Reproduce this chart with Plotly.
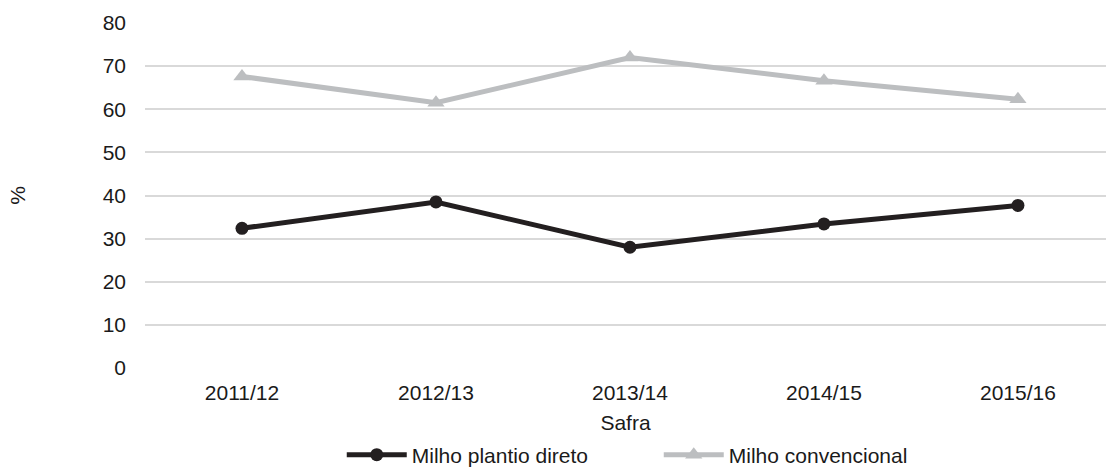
import plotly.graph_objects as go

safras = ["2011/12", "2012/13", "2013/14", "2014/15", "2015/16"]
plantio_direto = [32.4, 38.5, 28.0, 33.4, 37.7]
convencional = [67.6, 61.5, 72.0, 66.6, 62.3]
y_ticks = [0, 10, 20, 30, 40, 50, 60, 70, 80]

FONT = "Liberation Sans, Arial, sans-serif"
TXT = "#1a1a1a"
FS = 21

fig = go.Figure()
fig.add_trace(go.Scatter(
    x=safras, y=plantio_direto, name="Milho plantio direto",
    mode="lines+markers",
    line=dict(color="#231f20", width=5),
    marker=dict(symbol="circle", size=13, color="#231f20"),
))
fig.add_trace(go.Scatter(
    x=safras, y=convencional, name="Milho convencional",
    mode="lines+markers",
    line=dict(color="#bcbec0", width=5),
    marker=dict(symbol="triangle-up", size=15, color="#bcbec0"),
))

fig.update_layout(
    width=1106, height=469,
    margin=dict(l=145, r=0, t=23, b=101),
    paper_bgcolor="white", plot_bgcolor="white",
    font=dict(family=FONT, size=FS, color=TXT),
    showlegend=True,
    legend=dict(orientation="h", xref="container", yref="container",
                x=0.309, xanchor="left", y=1 - 455 / 469, yanchor="middle",
                font=dict(size=FS, color=TXT), entrywidth=242, itemwidth=60,
                bgcolor="rgba(0,0,0,0)"),
    xaxis=dict(
        type="category", range=[-0.5, 4.454], showgrid=False, zeroline=False,
        showline=False, ticks="", ticklabelstandoff=10, automargin=False,
        title=dict(text="Safra", standoff=23, font=dict(size=FS, color=TXT)),
    ),
    yaxis=dict(
        range=[0, 80], tickvals=y_ticks, showgrid=True, gridcolor="#d9d9d9", gridwidth=1.5,
        zeroline=False, showline=False, ticks="", ticklabelstandoff=18, automargin=False,
        title=dict(text="%", standoff=71, font=dict(size=FS, color=TXT)),
    ),
)

fig.write_html("out.html")
